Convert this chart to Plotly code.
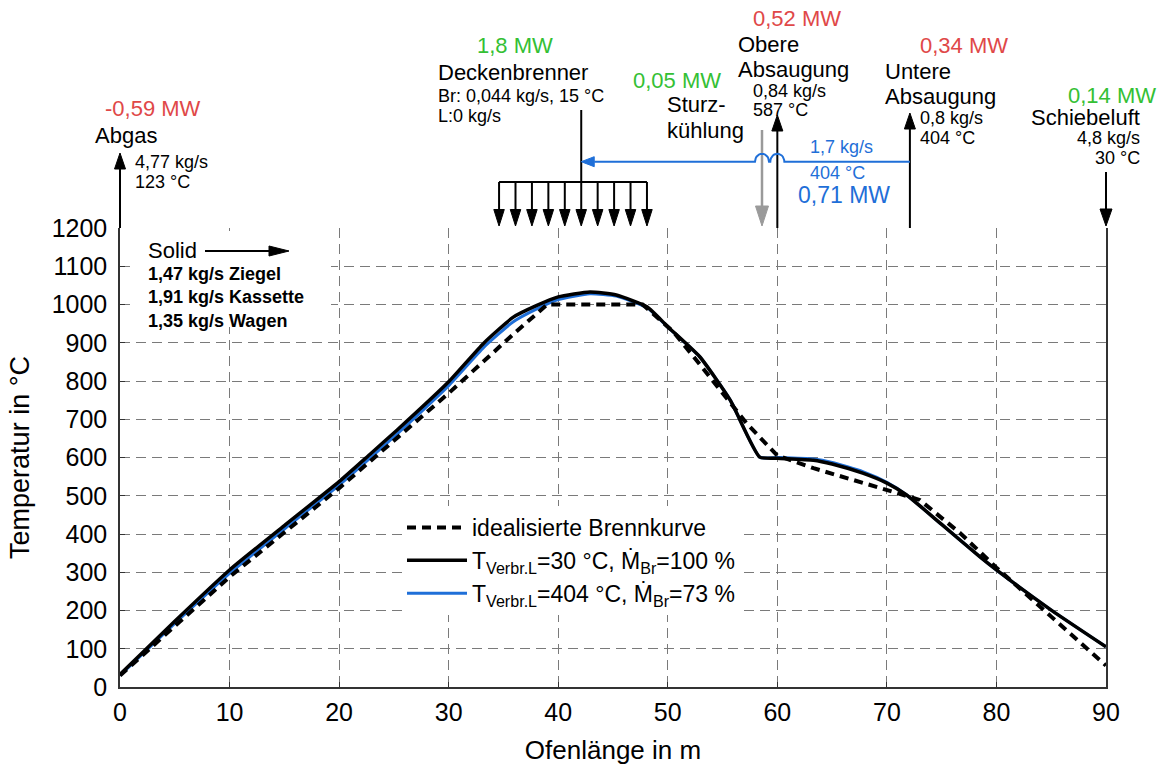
import numpy as np
import plotly.graph_objects as go

# ---------------- data ----------------
dist_ideal = [0, 10, 20, 30, 36, 39, 47.7, 50.5, 52.6, 57.2, 60, 63.3, 70.6, 73, 76.7, 80, 85, 90]
temp_ideal = [30, 288, 520, 768, 925, 1000, 1000, 929, 855, 689, 605, 572, 510, 489, 402, 312, 184, 56]

dist_sim = [0, 5, 10, 15, 20, 22.8, 25.3, 30, 33.2, 35.9, 38, 40, 42.9, 45.3, 48.1, 50,
            52.9, 55.7, 58.4, 60, 63.3, 65, 67.8, 70, 71.8, 75, 78.5, 80, 85, 90]
temp_sim_30 = [33, 172, 306, 422, 537, 608, 672, 798, 899, 967, 997, 1020, 1033, 1025, 994, 942,
               864, 750, 601, 598, 593, 583, 559, 533, 502, 425, 340, 306, 201, 105]
temp_sim_404 = [30, 166, 297, 413, 528, 598, 662, 788, 888, 955, 988, 1013, 1028, 1022, 992, 941,
                864, 750, 601, 600, 596, 587, 563, 535, 502, 425, 340, 306, 201, 105]

names = ["idealisierte Brennkurve",
         "T<sub>Verbr.L</sub>=30 °C, Ṁ<sub>Br</sub>=100 %",
         "T<sub>Verbr.L</sub>=404 °C, Ṁ<sub>Br</sub>=73 %"]

x_ticks = [0, 10, 20, 30, 40, 50, 60, 70, 80, 90]
y_ticks = [0, 100, 200, 300, 400, 500, 600, 700, 800, 900, 1000, 1100, 1200]

# positions of the kiln inlets / outlets along the kiln (m)
pos_abgas = 0.0
pos_burner_center = 42.1
pos_burners = [34.6, 36.1, 37.6, 39.1, 40.6, 42.1, 43.6, 45.1, 46.6, 48.1]
pos_sturz = 58.6
pos_obere = 60.0
pos_untere = 72.1
pos_schiebe = 90.0

solid_lines = ["1,47 kg/s Ziegel", "1,91 kg/s Kassette", "1,35 kg/s Wagen"]

# ---------------- layout geometry ----------------
W, H = 1162, 767
PX_X0, PX_X90 = 120, 1106
PY_Y0, PY_Y1200 = 687, 228
ML, MR, MT, MB = 40, 1, 0, 80
plot_w = W - ML - MR
plot_h = H - MT - MB
SCALE = (PX_X90 - PX_X0) / 90.0

FONT = "Liberation Sans, Arial, sans-serif"
RED = "#e04848"
GREEN = "#34c034"
BLUE = "#1f6fd8"
GRAY = "#9a9a9a"


def mx(px):
    return (px - PX_X0) / SCALE


def up(py):
    return PY_Y1200 - py


def cy(py):
    return (PY_Y0 - py) * 1200.0 / (PY_Y0 - PY_Y1200)


fig = go.Figure()

# ---------------- curves ----------------
fig.add_trace(go.Scatter(x=dist_sim, y=temp_sim_404, mode="lines", name=names[2],
                         line=dict(color=BLUE, width=3, shape="spline", smoothing=0.5),
                         legendrank=3, legendgroup="c"))
fig.add_trace(go.Scatter(x=dist_ideal, y=temp_ideal, mode="lines", name=names[0],
                         line=dict(color="black", width=4, dash="9px,6px"), legendrank=1,
                         legendgroup="a"))
fig.add_trace(go.Scatter(x=dist_sim, y=temp_sim_30, mode="lines", name=names[1],
                         line=dict(color="black", width=3.5, shape="spline", smoothing=0.5),
                         legendrank=2, legendgroup="b"))


# ---------------- schematic arrows (overlay axes x2/y2) ----------------
def v_arrow(x, y_from, y_tip, color, width, head_len, head_w, xa="x2", ya="y2"):
    base = y_tip - head_len if y_tip > y_from else y_tip + head_len
    hw = head_w / 2.0 / SCALE
    fig.add_trace(go.Scatter(x=[x, x], y=[y_from, base], mode="lines", xaxis=xa, yaxis=ya,
                             line=dict(color=color, width=width), showlegend=False,
                             hoverinfo="skip"))
    fig.add_trace(go.Scatter(x=[x - hw, x + hw, x, x - hw], y=[base, base, y_tip, base],
                             mode="lines", fill="toself", fillcolor=color, xaxis=xa, yaxis=ya,
                             line=dict(color=color, width=1), showlegend=False,
                             hoverinfo="skip"))


# Abgas (up)
v_arrow(pos_abgas, 0, up(153), "black", 2, 16, 11)
# Obere / Untere Absaugung (up)
v_arrow(pos_obere, 0, up(115), "black", 2, 16, 11)
v_arrow(pos_untere, 0, up(113), "black", 2, 16, 11)
# Schiebeluft (down)
v_arrow(pos_schiebe, up(172), up(226), "black", 2, 17, 12)
# Sturzkuehlung (down, gray)
v_arrow(pos_sturz, up(130), up(226), GRAY, 2.5, 20, 13)

# Deckenbrenner
fig.add_trace(go.Scatter(x=[pos_burner_center, pos_burner_center], y=[up(110), up(182)],
                         mode="lines", xaxis="x2", yaxis="y2", line=dict(color="black", width=2),
                         showlegend=False, hoverinfo="skip"))
fig.add_trace(go.Scatter(x=[pos_burners[0], pos_burners[-1]], y=[up(182), up(182)],
                         mode="lines", xaxis="x2", yaxis="y2", line=dict(color="black", width=2),
                         showlegend=False, hoverinfo="skip"))
for xb in pos_burners:
    v_arrow(xb, up(182), up(226), "black", 2, 16.5, 10.5)

# blue recirculation line with two hops, arrow to the left
y_blue = up(161.7)
head_len_m = 13 / SCALE
hop_hw = 7 / SCALE
bx = [pos_untere]
by = [y_blue]
for xc in [pos_obere, pos_sturz]:
    t = np.linspace(0, np.pi, 15)
    bx += list(xc + hop_hw * np.cos(t))
    by += list(y_blue + 8 * np.sin(t))
bx.append(pos_burner_center + head_len_m)
by.append(y_blue)
fig.add_trace(go.Scatter(x=bx, y=by, mode="lines", xaxis="x2", yaxis="y2",
                         line=dict(color=BLUE, width=2), showlegend=False, hoverinfo="skip"))
fig.add_trace(go.Scatter(x=[pos_burner_center + head_len_m, pos_burner_center + head_len_m,
                            pos_burner_center, pos_burner_center + head_len_m],
                         y=[y_blue - 5, y_blue + 5, y_blue, y_blue - 5], mode="lines",
                         fill="toself", fillcolor=BLUE, xaxis="x2", yaxis="y2",
                         line=dict(color=BLUE, width=1), showlegend=False, hoverinfo="skip"))

# Solid arrow inside the plot
sy = cy(251)
dy = 5 * 1200 / 459
fig.add_trace(go.Scatter(x=[mx(205), mx(270)], y=[sy, sy], mode="lines",
                         line=dict(color="black", width=2), showlegend=False, hoverinfo="skip"))
fig.add_trace(go.Scatter(x=[mx(269), mx(269), mx(289), mx(269)],
                         y=[sy - dy, sy + dy, sy, sy - dy],
                         mode="lines", fill="toself", fillcolor="black",
                         line=dict(color="black", width=1), showlegend=False, hoverinfo="skip"))

# ---------------- texts ----------------
ann = []


def txt(px, py, s, size, color="black", anchor="left"):
    ann.append(dict(x=mx(px), y=up(py), xref="x2", yref="y2", text=s, showarrow=False,
                    xanchor=anchor, yanchor="middle", borderpad=0,
                    font=dict(size=size, color=color, family=FONT)))


BIG, SMALL = 22, 18
txt(104, 108, "-0,59 MW", BIG, RED)
txt(94, 135, "Abgas", BIG)
txt(134, 162, "4,77 kg/s", SMALL)
txt(134, 182, "123 °C", SMALL)

txt(476, 45, "1,8 MW", BIG, GREEN)
txt(437, 72, "Deckenbrenner", BIG)
txt(437, 96, "Br: 0,044 kg/s, 15 °C", SMALL)
txt(437, 116, "L:0 kg/s", SMALL)

txt(632, 80, "0,05 MW", BIG, GREEN)
txt(666, 104, "Sturz-", BIG)
txt(666, 130, "kühlung", BIG)

txt(752, 18, "0,52 MW", BIG, RED)
txt(737, 44, "Obere", BIG)
txt(737, 69, "Absaugung", BIG)
txt(752, 91, "0,84 kg/s", SMALL)
txt(752, 110, "587 °C", SMALL)

txt(919, 45, "0,34 MW", BIG, RED)
txt(884, 71, "Untere", BIG)
txt(884, 96, "Absaugung", BIG)
txt(919, 118, "0,8 kg/s", SMALL)
txt(919, 138, "404 °C", SMALL)

txt(1157, 95, "0,14 MW", BIG, GREEN, anchor="right")
txt(1141, 117, "Schiebeluft", BIG, anchor="right")
txt(1141, 138, "4,8 kg/s", SMALL, anchor="right")
txt(1141, 158, "30 °C", SMALL, anchor="right")

txt(809, 147, "1,7 kg/s", SMALL, BLUE)
txt(809, 173, "404 °C", SMALL, BLUE)
txt(797, 195, "0,71 MW", 23, BLUE)

# Solid box inside plot
ann.append(dict(x=mx(146), y=cy(250), xref="x", yref="y", text="Solid", showarrow=False,
                xanchor="left", yanchor="middle", font=dict(size=BIG, color="black", family=FONT)))
ann.append(dict(x=mx(146), y=cy(297), xref="x", yref="y",
                text="<br>".join("<b>" + s + "</b>" for s in solid_lines), showarrow=False,
                xanchor="left", yanchor="middle", align="left",
                font=dict(size=SMALL, color="black", family=FONT)))

shapes = [dict(type="rect", xref="x", yref="y", x0=mx(131), x1=mx(331), y0=cy(327), y1=cy(231),
               fillcolor="white", line=dict(width=0), layer="between")]

grid = dict(showgrid=True, gridcolor="#7a7a7a", gridwidth=1, griddash="10px,6px")

fig.update_layout(
    width=W, height=H,
    margin=dict(l=ML, r=MR, t=MT, b=MB, autoexpand=False),
    paper_bgcolor="white", plot_bgcolor="white",
    font=dict(family=FONT, size=24, color="black"),
    xaxis=dict(domain=[(PX_X0 - ML) / plot_w, (PX_X90 - ML) / plot_w], range=[0, 90],
               tickvals=x_ticks, ticks="inside", ticklen=5, tickcolor="#333",
               showline=True, linecolor="#333", linewidth=1.5, zeroline=False,
               tickfont=dict(size=25), ticklabelstandoff=2, automargin=False,
               title=dict(text="Ofenlänge in m", font=dict(size=26), standoff=16), **grid),
    yaxis=dict(domain=[0, (PY_Y0 - PY_Y1200) / plot_h], range=[0, 1200],
               tickvals=y_ticks, ticks="inside", ticklen=5, tickcolor="#333",
               showline=True, mirror=True, linecolor="#333", linewidth=1.5, zeroline=False,
               tickfont=dict(size=25), ticklabelstandoff=6, automargin=False,
               title=dict(text="Temperatur in °C", font=dict(size=27), standoff=14), **grid),
    xaxis2=dict(domain=[0, 1], range=[mx(ML), mx(W - MR)], anchor="y2", visible=False,
                fixedrange=True),
    yaxis2=dict(domain=[(PY_Y0 - PY_Y1200) / plot_h, 1], range=[0, PY_Y1200], anchor="x2",
                visible=False, fixedrange=True),
    showlegend=True,
    legend=dict(x=(402 - ML) / plot_w, y=1 - 506 / plot_h, xanchor="left", yanchor="top",
                bgcolor="white", borderwidth=0, font=dict(size=23, family=FONT),
                itemwidth=60, tracegroupgap=2, traceorder="normal"),
    annotations=ann,
    shapes=shapes,
)

fig.write_html("out.html", config={"displayModeBar": False},
               post_script="document.body.style.margin='0';document.body.style.overflow='hidden';")
